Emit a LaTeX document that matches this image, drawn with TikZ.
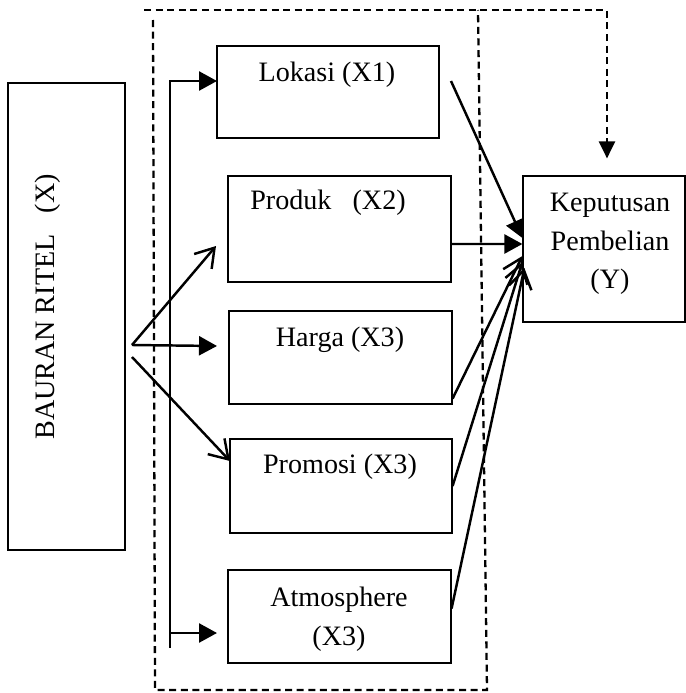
\documentclass[tikz,border=0pt]{standalone}
\usepackage{fontspec}
\setmainfont{Liberation Serif}
\usetikzlibrary{arrows.meta}

\tikzset{
  box/.style={draw, rectangle, line width=0.7pt, inner sep=0pt},
  lbl/.style={font=\fontsize{16}{22}\selectfont, align=center, inner sep=0pt},
  solidarrow/.style={line width=1.4pt, -{Triangle[length=0.36cm,width=0.38cm]}},
  openarrow/.style={line width=1.4pt, -{Straight Barb[length=0.36cm,width=0.46cm]}},
  dashline/.style={line width=1.3pt, dash pattern=on 4pt off 2.6pt},
}

\begin{document}
\begin{tikzpicture}[x=0.02cm, y=-0.02cm]
\useasboundingbox (0,0) rectangle (686,693);

% boxes
\node[box, minimum width=2.34cm, minimum height=9.34cm] (ritel) at (66.5,316.5) {};
\node[box, minimum width=4.44cm, minimum height=1.84cm] (lokasi) at (328,92) {};
\node[box, minimum width=4.46cm, minimum height=2.12cm] (produk) at (339.5,229) {};
\node[box, minimum width=4.46cm, minimum height=1.86cm] (harga) at (340.5,357.5) {};
\node[box, minimum width=4.44cm, minimum height=1.88cm] (promosi) at (341,486) {};
\node[box, minimum width=4.46cm, minimum height=1.86cm] (atmos) at (339.5,616.5) {};
\node[box, minimum width=3.24cm, minimum height=2.92cm] (kep) at (604,249) {};

% texts
\node[lbl, rotate=90] (ritelText) at (48,307) {BAURAN RITEL\ \ \ (X)};
\node[lbl] (lokasiText) at (327,75) {Lokasi (X1)};
\node[lbl] (produkText) at (328,203) {Produk\ \ \ (X2)};
\node[lbl] (hargaText) at (340,340) {Harga (X3)};
\node[lbl] (promosiText) at (340,467) {Promosi (X3)};
\node[lbl] (atmosText) at (339,619) {Atmosphere\\(X3)};
\node[lbl] (kepText) at (610,244) {Keputusan\\Pembelian\\(Y)};

% dashed frame
\draw[dashline] (153,20) -- (155,690) -- (487,690) -- (478,10);
\coordinate (dtop) at (607,10);
\draw[dashline, -{Triangle[length=0.34cm,width=0.32cm]}, shorten >=0.34cm]
  (144,10) -- (dtop) -- (dtop |- kep.north);

% split bar
\coordinate (bartop) at (170,80);
\coordinate (barbot) at (170,648);
\coordinate (src) at (132,345);
\coordinate (src2) at (132,357);
\coordinate (tipL) at (217,81);
\coordinate (tipH) at (217,346);
\coordinate (tipA) at (217,633);
\coordinate (tipP) at (216,246);
\coordinate (tipM) at (230,461);
\draw[line width=1.4pt] (bartop) -- (barbot);
\draw[solidarrow] (bartop |- tipL) -- (tipL);
\draw[solidarrow] (src) -- (tipH);
\draw[solidarrow] (barbot |- tipA) -- (tipA);
\draw[openarrow] (src) -- (tipP);
\draw[openarrow] (src2) -- (tipM);

% to Y
\coordinate (fromL) at (451,81);
\draw[solidarrow] (fromL) -- ([yshift=0.22cm]kep.west);
\draw[solidarrow] ([yshift=-0.3cm]produk.east) -- ([yshift=0.1cm]kep.west);
\draw[openarrow] ([yshift=0.12cm]harga.south east) -- ([yshift=-0.14cm]kep.west);
\draw[openarrow] (promosi.east) -- ([yshift=-0.26cm]kep.west);
\draw[openarrow] ([yshift=0.16cm]atmos.east) -- ([xshift=0.04cm,yshift=-0.38cm]kep.west);
\end{tikzpicture}
\end{document}
